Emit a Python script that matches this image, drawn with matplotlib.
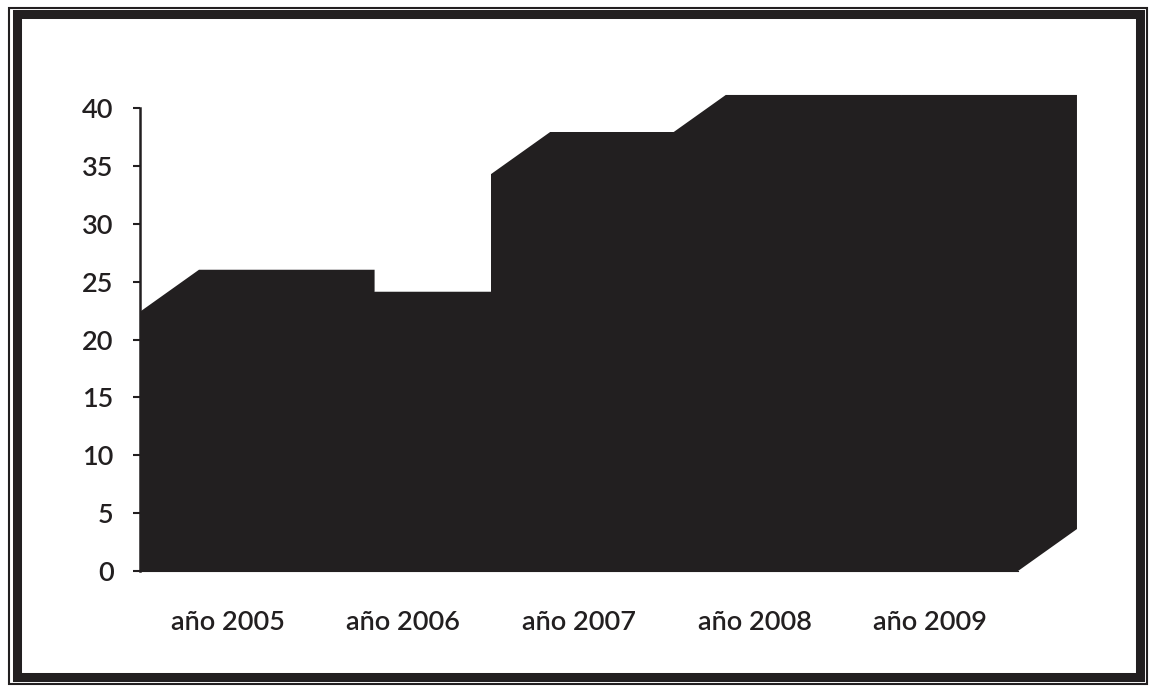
import matplotlib
matplotlib.use("Agg")
import matplotlib.pyplot as plt
from matplotlib.patches import Polygon, Rectangle

categories = ["año 2005", "año 2006", "año 2007", "año 2008", "año 2009"]
values = [22.4, 20.5, 34.3, 37.5, 37.5]
yticks = [0, 5, 10, 15, 20, 25, 30, 35, 40]

ink = "#221f20"
plt.rcParams["font.family"] = ["Lato", "DejaVu Sans"]
plt.rcParams["font.weight"] = "semibold"

fig = plt.figure(figsize=(11.56, 6.88), dpi=100)
ax = fig.add_axes([0.1211, 0.170, 0.7595, 0.673])
ax.set_xlim(0, len(categories))
ax.set_ylim(0, 40)

# front faces
ax.bar(range(len(categories)), values, width=1.0, align="edge", color=ink, zorder=3)

# depth: top and side faces, computed in pixels from the data positions
dx, dy = 59, 42
for i, v in enumerate(values):
    (x0, y0), (x1, y1) = ax.transData.transform([(i, 0), (i + 1, v)])
    hexa = [(x0, y0), (x0, y1), (x0 + dx, y1 + dy), (x1 + dx, y1 + dy),
            (x1 + dx, y0 + dy), (x1, y0)]
    ax.add_patch(Polygon(hexa, closed=True, transform=None, color=ink,
                         clip_on=False, zorder=2, lw=0))

ax.set_yticks(yticks)
ax.set_xticks([i + 0.5 for i in range(len(categories))])
ax.set_xticklabels(categories)
ax.tick_params(axis="y", length=5, width=1.5, pad=14, labelsize=19.5, colors=ink)
ax.tick_params(axis="x", length=0, pad=28, labelsize=19.5, colors=ink)
for s in ["top", "right"]:
    ax.spines[s].set_visible(False)
ax.spines["left"].set_linewidth(1.8)
ax.spines["left"].set_color(ink)
ax.spines["left"].set_zorder(4)
ax.spines["bottom"].set_color(ink)
ax.set_facecolor("none")

# double frame around the picture
fig.patches.append(Rectangle((0.008, 0.006), 0.984, 0.982, transform=fig.transFigure,
                             fill=False, ec=ink, lw=1.5))
fig.patches.append(Rectangle((0.0145, 0.016), 0.972, 0.963, transform=fig.transFigure,
                             fill=False, ec=ink, lw=6.5))

fig.savefig("out.png", dpi=100)
